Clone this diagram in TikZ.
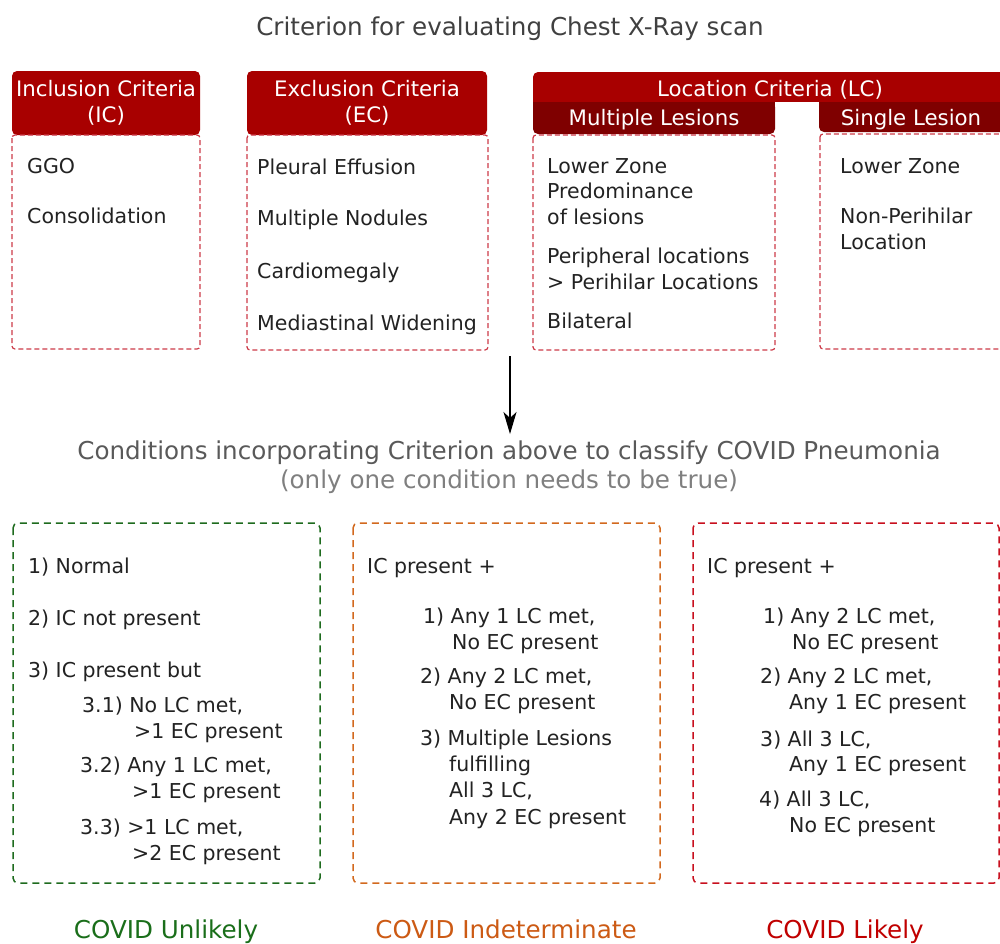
\documentclass[tikz,border=0pt]{standalone}
\usepackage{fontspec}
\setmainfont{DejaVu Sans}
\usetikzlibrary{arrows.meta}
\definecolor{hdr}{HTML}{A80000}
\definecolor{hdrdark}{HTML}{7F0000}
\definecolor{topdash}{HTML}{CC3A48}
\definecolor{txt}{HTML}{222222}
\definecolor{ttl}{HTML}{404040}
\definecolor{cond}{HTML}{595959}
\definecolor{condsub}{HTML}{7F7F7F}
\definecolor{grn}{HTML}{1E6B1E}
\definecolor{grnlbl}{HTML}{1A6E1A}
\definecolor{org}{HTML}{D2691E}
\definecolor{orglbl}{HTML}{CC5A14}
\definecolor{lred}{HTML}{C8101E}
\definecolor{lredlbl}{HTML}{C00000}
\tikzset{
  x=1pt, y=-1pt,
  fnt/.style={font=\fontsize{20.5}{25.5}\selectfont},
  bigfnt/.style={font=\fontsize{24.6}{30}\selectfont},
  item/.style={fnt, text=txt, inner sep=0pt, anchor=base west},
  hdrtext/.style={font=\fontsize{21.3}{26}\selectfont, text=white, inner sep=0pt, anchor=base},
  hdrbox/.style={fill=hdr, draw=none, rounded corners=5pt},
  subbox/.style={fill=hdrdark, draw=none},
  topbody/.style={draw=topdash, line width=1.2pt, dash pattern=on 5pt off 3pt, rounded corners=3pt},
  botbody/.style={line width=1.5pt, dash pattern=on 7pt off 5pt, rounded corners=5pt},
  centertext/.style={bigfnt, inner sep=0pt, anchor=base},
}
\begin{document}
\begin{tikzpicture}
\useasboundingbox (0,0) rectangle (1000,943);
\clip (0,0) rectangle (1000,943);
% title
\node[centertext, text=ttl] (title) at (510,35) {Criterion for evaluating Chest X-Ray scan};

% IC
\fill[hdrbox] (12,71) rectangle (200,135);
\draw[topbody] (12,135) rectangle (200,349);
\node[hdrtext] (ich1) at (106,96) {Inclusion Criteria};
\node[hdrtext] (ich2) at (106,122) {(IC)};
\node[item] (ic1) at (27,173) {GGO};
\node[item] (ic2) at (27,223) {Consolidation};

% EC
\fill[hdrbox] (247,71) rectangle (487,135);
\draw[topbody] (247,135) rectangle (488,350);
\node[hdrtext] (ech1) at (367,96) {Exclusion Criteria};
\node[hdrtext] (ech2) at (367,122) {(EC)};
\node[item] (ec1) at (257,174) {Pleural Effusion};
\node[item] (ec2) at (257,225) {Multiple Nodules};
\node[item] (ec3) at (257,278) {Cardiomegaly};
\node[item] (ec4) at (257,330) {Mediastinal Widening};

% LC
\fill[hdrbox] (533,72) rectangle (1010,108);
\fill[white] (775,102) rectangle (819,110);
\fill[hdrbox, fill=hdrdark] (533,102) rectangle (775,134);
\fill[subbox] (533,102) rectangle (775,120);
\fill[hdrbox, fill=hdrdark] (819,102) rectangle (1010,132);
\fill[subbox] (819,102) rectangle (1010,120);
\node[hdrtext] (lch) at (770,96) {Location Criteria (LC)};
\node[hdrtext] (mlh) at (654,125) {Multiple Lesions};
\node[hdrtext] (slh) at (911,125) {Single Lesion};
\draw[topbody] (533,135) rectangle (775,350);
\draw[topbody] (820,134) rectangle (1010,349);
\node[item] (ml1) at (547,173) {Lower Zone};
\node[item] (ml2) at (547,198) {Predominance};
\node[item] (ml3) at (547,224) {of lesions};
\node[item] (ml4) at (547,263) {Peripheral locations};
\node[item] (ml5) at (547,289) {> Perihilar Locations};
\node[item] (ml6) at (547,328) {Bilateral};
\node[item] (sl1) at (840,173) {Lower Zone};
\node[item] (sl2) at (840,223) {Non-Perihilar};
\node[item] (sl3) at (840,249) {Location};

% arrow
\coordinate (arrs) at (510,356);
\coordinate (arre) at (510,434);
\draw[line width=1.3pt, -{Stealth[length=22pt,width=13pt,inset=6pt]}] (arrs) -- (arre);

% conditions text
\node[centertext, text=cond] (cond1) at (509,459) {Conditions incorporating Criterion above to classify COVID Pneumonia};
\node[centertext, text=condsub] (cond2) at (509,488) {(only one condition needs to be true)};

% green box
\draw[botbody, draw=grn] (13,523) rectangle (320,883);
\node[item] (g1) at (28,573) {1) Normal};
\node[item] (g2) at (28,625) {2) IC not present};
\node[item] (g3) at (28,677) {3) IC present but};
\node[item] (g4) at (82,712) {3.1) No LC met,};
\node[item] (g5) at (134,738) {>1 EC present};
\node[item] (g6) at (80,772) {3.2) Any 1 LC met,};
\node[item] (g7) at (132,798) {>1 EC present};
\node[item] (g8) at (80,834) {3.3) >1 LC met,};
\node[item] (g9) at (132,860) {>2 EC present};
\node[centertext, text=grnlbl] (glbl) at (166,938) {COVID Unlikely};

% orange box
\draw[botbody, draw=org] (353,523) rectangle (660,883);
\node[item] (o0) at (367,573) {IC present +};
\node[item] (o1) at (423,623) {1) Any 1 LC met,};
\node[item] (o2) at (452,649) {No EC present};
\node[item] (o3) at (420,683) {2) Any 2 LC met,};
\node[item] (o4) at (449,709) {No EC present};
\node[item] (o5) at (420,745) {3) Multiple Lesions};
\node[item] (o6) at (449,771) {fulfilling};
\node[item] (o7) at (449,797) {All 3 LC,};
\node[item] (o8) at (449,824) {Any 2 EC present};
\node[centertext, text=orglbl] (olbl) at (506,938) {COVID Indeterminate};

% red box
\draw[botbody, draw=lred] (693,523) rectangle (999,883);
\node[item] (r0) at (707,573) {IC present +};
\node[item] (r1) at (763,623) {1) Any 2 LC met,};
\node[item] (r2) at (792,649) {No EC present};
\node[item] (r3) at (760,683) {2) Any 2 LC met,};
\node[item] (r4) at (789,709) {Any 1 EC present};
\node[item] (r5) at (760,746) {3) All 3 LC,};
\node[item] (r6) at (789,771) {Any 1 EC present};
\node[item] (r7) at (759,806) {4) All 3 LC,};
\node[item] (r8) at (789,832) {No EC present};
\node[centertext, text=lredlbl] (rlbl) at (845,938) {COVID Likely};
\end{tikzpicture}
\end{document}
